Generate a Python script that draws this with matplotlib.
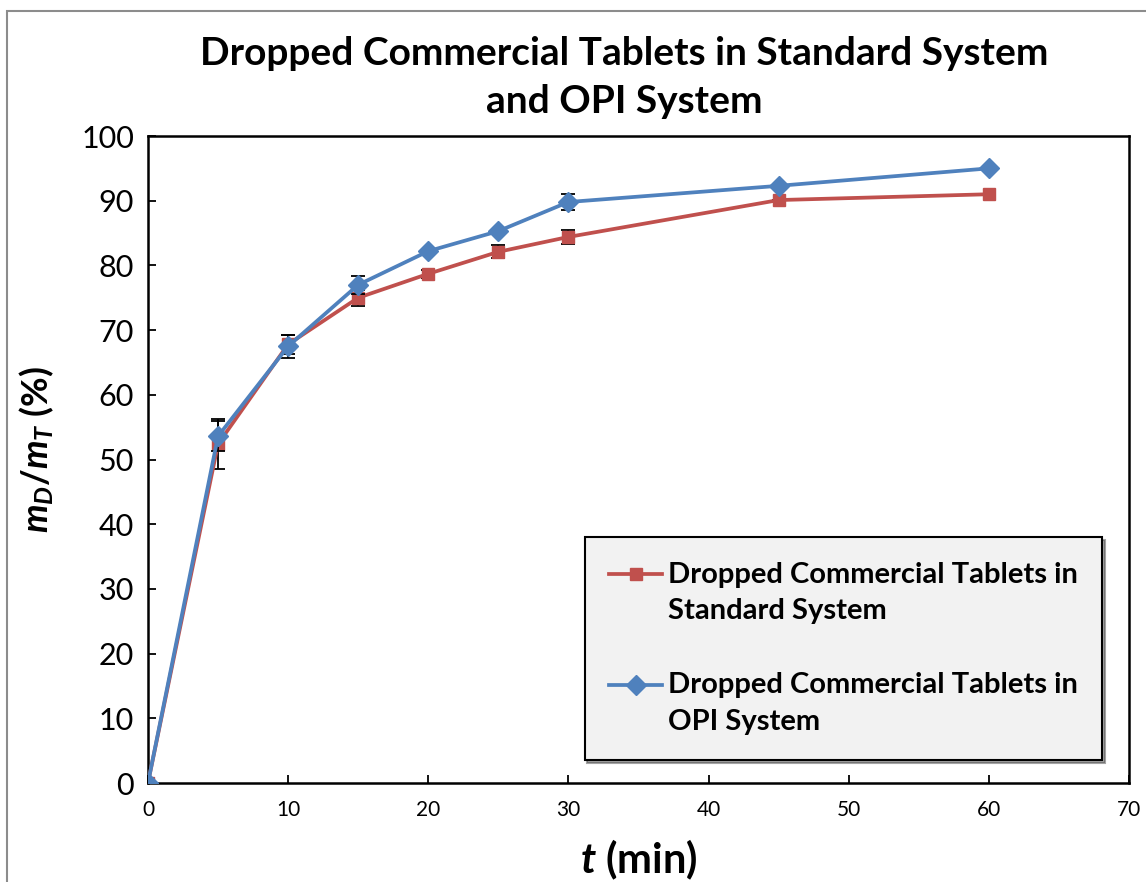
import numpy as np
import matplotlib.pyplot as plt
from matplotlib.patches import Rectangle
from matplotlib.lines import Line2D

# Dissolution data (time in min, released mass in %)
t = [0, 5, 10, 15, 20, 25, 30, 45, 60]
std_vals = [0, 52.4, 67.8, 75.0, 78.7, 82.1, 84.4, 90.1, 91.0]
std_err = [0, 3.8, 1.5, 1.2, 0.6, 1.0, 1.1, 0, 0]
opi_vals = [0, 53.6, 67.5, 77.0, 82.2, 85.3, 89.8, 92.3, 95.0]
opi_err = [0, 2.3, 1.8, 1.4, 0, 0, 1.2, 0, 0]

std_label = 'Dropped Commercial Tablets in\nStandard System'
opi_label = 'Dropped Commercial Tablets in\nOPI System'

red = '#C0504D'
blue = '#4F81BD'

plt.rcParams['font.family'] = ['Lato', 'DejaVu Sans']
plt.rcParams['mathtext.fontset'] = 'custom'
plt.rcParams['mathtext.it'] = 'Lato:italic:bold'
plt.rcParams['mathtext.rm'] = 'Lato:bold'
plt.rcParams['mathtext.bf'] = 'Lato:bold'

fig = plt.figure(figsize=(11.46, 8.82), dpi=100)
ax = fig.add_axes([0.1291, 0.1122, 0.8561, 0.7336])

# outer chart frame
fig.patches.append(Rectangle((7 / 1146, -0.1), 1.2, 1.1 - 11.5 / 882,
                             transform=fig.transFigure, fill=False,
                             edgecolor='#8c8c8c', linewidth=1.5))

ax.errorbar(t, std_vals, yerr=std_err, color=red, lw=2.7,
            marker='s', ms=9, ecolor='black', elinewidth=1.3, capsize=5,
            capthick=1.3, zorder=3)
ax.errorbar(t, opi_vals, yerr=opi_err, color=blue, lw=2.7,
            marker='D', ms=10, ecolor='black', elinewidth=1.3, capsize=5,
            capthick=1.3, zorder=4)

ax.set_xlim(0, 70)
ax.set_ylim(0, 100)
ax.set_xticks(np.arange(0, 71, 10))
ax.set_yticks(np.arange(0, 101, 10))
ax.tick_params(axis='x', direction='in', length=6, width=1.3, labelsize=15, pad=12)
ax.tick_params(axis='y', direction='in', length=6, width=1.3, labelsize=22, pad=10)
for s in ax.spines.values():
    s.set_linewidth(1.8)

ax.set_xlabel('$t$ (min)', fontsize=30, fontweight='bold', labelpad=13)
ax.set_ylabel('$m_D$/$m_T$ (%)', fontsize=26, fontweight='bold', labelpad=18)
ax.yaxis.label.set_y(0.515)
fig.text(0.545, 0.912, 'Dropped Commercial Tablets in Standard System\nand OPI System',
         ha='center', va='center', fontsize=28, fontweight='bold', linespacing=1.45)

# legend handles: line + marker only
handles = [Line2D([], [], color=red, lw=2.7, marker='s', ms=9),
           Line2D([], [], color=blue, lw=2.7, marker='D', ms=10)]
leg = ax.legend(handles, [std_label, opi_label], loc='lower left',
                bbox_to_anchor=(0.445, 0.036),
                prop={'weight': 'bold', 'size': 21}, labelspacing=1.65,
                handlelength=1.8, handletextpad=0.2, borderpad=0.85,
                borderaxespad=0, fancybox=False, shadow=True, framealpha=1)
for txt in leg.get_texts():
    txt.set_linespacing(1.5)
# put each handle level with the first text line
for h in leg.legend_handles:
    h.set_ydata(np.asarray(h.get_ydata()) + 14)
leg.get_frame().set_facecolor('#f2f2f2')
leg.get_frame().set_edgecolor('black')
leg.get_frame().set_linewidth(1.5)

fig.savefig('out.png', dpi=100)
